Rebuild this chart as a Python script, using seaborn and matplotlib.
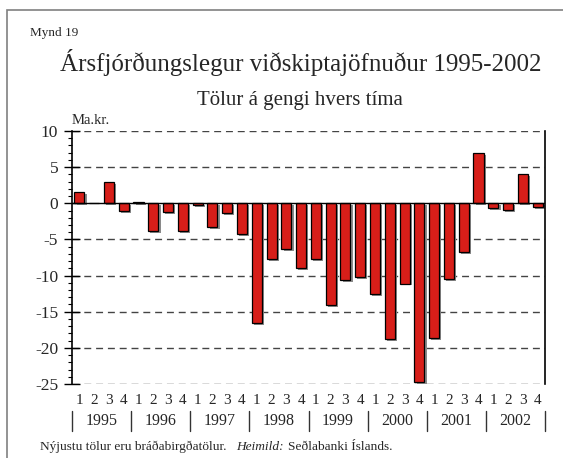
import numpy as np
import pandas as pd
import seaborn as sns
import matplotlib.pyplot as plt
import matplotlib.patheffects as pe
from matplotlib.transforms import blended_transform_factory

# data: quarterly current account balance, bn ISK
years = ["1995", "1996", "1997", "1998", "1999", "2000", "2001", "2002"]
quarters = ["1", "2", "3", "4"]
balance = [
    1.6, 0.1, 2.9, -1.1,
    0.2, -3.8, -1.2, -3.9,
    -0.3, -3.3, -1.3, -4.3,
    -16.5, -7.7, -6.3, -9.0,
    -7.7, -14.1, -10.6, -10.2,
    -12.5, -18.8, -11.1, -24.7,
    -18.7, -10.5, -6.7, 6.9,
    -0.7, -0.9, 4.0, -0.5,
]

df = pd.DataFrame({
    "period": [f"{y}Q{q}" for y in years for q in quarters],
    "value": balance,
})

sns.set_theme(style="white")
plt.rcParams["font.family"] = ["Liberation Serif", "DejaVu Serif"]
plt.rcParams["axes.unicode_minus"] = False

fig = plt.figure(figsize=(5.63, 4.58), dpi=100)
ax = fig.add_axes([72 / 563, 1 - 384 / 458, (545 - 72) / 563, (384 - 131) / 458])

# gridlines behind the bars
for yv in [10, 5, -5, -10, -15, -20, -25]:
    ax.axhline(yv, color="#444444", lw=1.0, dashes=(5, 3.5), zorder=0)
ax.axhline(0, color="black", lw=1.0, zorder=3)

sns.barplot(data=df, x="period", y="value", color="#d71e19", saturation=1,
            width=0.68, edgecolor="black", linewidth=0.9, ax=ax, zorder=2)
for bar in ax.patches:
    bar.set_path_effects([
        pe.SimplePatchShadow(offset=(1.6, -1.4), shadow_rgbFace="#8a8a8a", alpha=1.0),
        pe.Normal(),
    ])

ax.set_xlim(-0.5, len(balance) - 0.5)
ax.set_ylim(-25, 10)
ax.set_yticks(np.arange(-25, 11, 5))
ax.set_yticks(np.arange(-25, 11, 1), minor=True)
ax.set_yticklabels([str(v) for v in range(-25, 11, 5)], fontsize=12.5)
ax.tick_params(axis="y", which="major", direction="inout", length=11, width=1, color="black", pad=4.5, left=True)
ax.tick_params(axis="y", which="minor", direction="out", length=3, width=0.8, color="black", left=True)

ax.set_xticks(range(len(balance)))
ax.set_xticklabels(quarters * len(years), fontsize=11)
ax.tick_params(axis="x", length=0, pad=7)
ax.set_xlabel("")
ax.set_ylabel("")

for s in ["top", "bottom"]:
    ax.spines[s].set_visible(False)
for s in ["left", "right"]:
    ax.spines[s].set_visible(True)
    ax.spines[s].set_color("black")
    ax.spines[s].set_linewidth(1.2)

# year labels and separators
tr = blended_transform_factory(ax.transData, ax.transAxes)
for i, y in enumerate(years):
    ax.text(4 * i + 1.5, -0.147, y, transform=tr, ha="center", va="center", fontsize=11.5)
for i in range(len(years) + 1):
    ax.plot([4 * i - 0.5, 4 * i - 0.5], [-0.107, -0.186], transform=tr,
            color="#333333", lw=1.0, clip_on=False)

ax.text(0.0, 1.015, "Ma.kr.", transform=ax.transAxes, ha="left", va="bottom", fontsize=10.5)

fig.text(30 / 563, 1 - 33 / 458, "Mynd 19", ha="left", va="center", fontsize=9.5)
fig.text(301 / 563, 1 - 62 / 458, "Ársfjórðungslegur viðskiptajöfnuður 1995-2002",
         ha="center", va="center", fontsize=18)
fig.text(300 / 563, 1 - 101 / 458, "Tölur á gengi hvers tíma",
         ha="center", va="center", fontsize=15)

fig.text(40 / 563, 1 - 447 / 458, "Nýjustu tölur eru bráðabirgðatölur.", ha="left", va="center", fontsize=9.6)
fig.text(236 / 563, 1 - 447 / 458, "Heimild:", ha="left", va="center", fontsize=9.6, style="italic")
fig.text(288 / 563, 1 - 447 / 458, "Seðlabanki Íslands.", ha="left", va="center", fontsize=9.6)

# outer frame
fig.add_artist(plt.Rectangle((7.5 / 563, -0.1), 1.2, 1.1 - 10.5 / 458, transform=fig.transFigure,
                             fill=False, edgecolor="#808080", lw=1.2))

fig.savefig("out.png", dpi=100)
